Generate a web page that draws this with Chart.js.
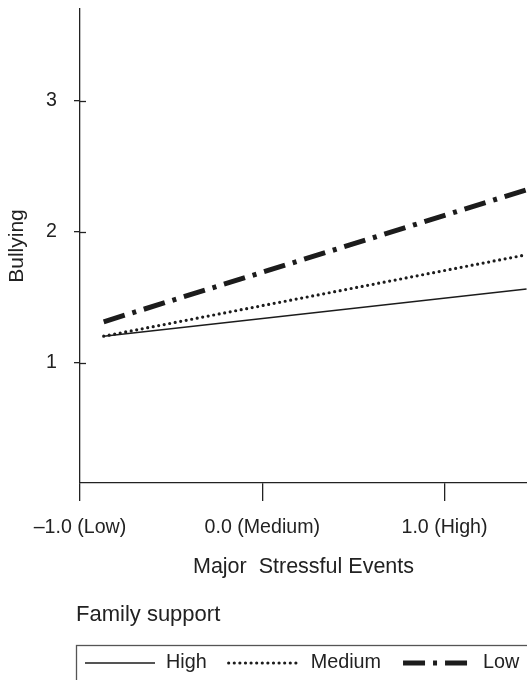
<!DOCTYPE html>
<html>
<head>
<meta charset="utf-8">
<script src="https://cdn.jsdelivr.net/npm/chart.js@4/dist/chart.umd.min.js"></script>
<style>
  html, body { margin: 0; padding: 0; background: #fff; }
  #wrap { width: 527px; height: 680px; }
</style>
</head>
<body>
<div id="wrap"><canvas id="chart"></canvas></div>
<script>
// values
const xTicks = [-1, 0, 1];
const xTickLabels = ['\u20131.0 (Low)', '0.0 (Medium)', '1.0 (High)'];
const yTicks = [1, 2, 3];
const stressX = [-0.87, 1.45];
const highSupport = [1.204, 1.564];
const mediumSupport = [1.204, 1.825];
const lowSupport = [1.314, 2.32];
const seriesNames = ['High', 'Medium', 'Low'];

const FONT = "'Liberation Sans', Arial, Helvetica, sans-serif";
const INK = '#1c1c1c';
const TEXT = '#222';

function toPoints(ys) {
    return stressX.map((x, i) => ({ x: x, y: ys[i] }));
}

const lineStyles = [
    { borderWidth: 1.5, borderDash: [], borderCapStyle: 'butt' },
    { borderWidth: 3.2, borderDash: [0, 5.6], borderCapStyle: 'round' },
    { borderWidth: 5, borderDash: [22, 8, 4, 8], borderCapStyle: 'butt' }
];

const datasets = [highSupport, mediumSupport, lowSupport].map((ys, i) => ({
    label: seriesNames[i],
    data: toPoints(ys),
    borderColor: INK,
    borderWidth: lineStyles[i].borderWidth,
    borderDash: lineStyles[i].borderDash,
    borderCapStyle: lineStyles[i].borderCapStyle,
    pointRadius: 0,
    fill: false,
    tension: 0
}));

// inner half of the y ticks (they cross the axis)
const innerTicks = {
    id: 'innerTicks',
    afterDraw(chart) {
        const ctx = chart.ctx;
        const y = chart.scales.y;
        ctx.save();
        ctx.strokeStyle = TEXT;
        ctx.lineWidth = 1.3;
        yTicks.forEach(v => {
            const py = Math.round(y.getPixelForValue(v)) + 0.5;
            ctx.beginPath();
            ctx.moveTo(chart.chartArea.left, py);
            ctx.lineTo(chart.chartArea.left + 6, py);
            ctx.stroke();
        });
        ctx.restore();
    }
};

// boxed legend with a title above it
const boxedLegend = {
    id: 'boxedLegend',
    afterDraw(chart) {
        const ctx = chart.ctx;
        const left = 76;
        const titleY = 615;
        const boxTop = 645;
        const itemY = 663;
        ctx.save();
        ctx.fillStyle = TEXT;
        ctx.textBaseline = 'middle';
        ctx.font = '22px ' + FONT;
        ctx.fillText('Family support', left, titleY);

        ctx.strokeStyle = '#555';
        ctx.lineWidth = 1.3;
        ctx.strokeRect(left + 0.5, boxTop + 0.5, 700, 100);

        ctx.font = '19.8px ' + FONT;
        let x = left + 9;
        const sampleLen = [70, 70, 65];
        const textGap = [11, 12, 15];
        chart.data.datasets.forEach((ds, i) => {
            ctx.save();
            ctx.strokeStyle = ds.borderColor;
            ctx.lineWidth = ds.borderWidth;
            ctx.setLineDash(ds.borderDash);
            ctx.lineCap = ds.borderCapStyle;
            ctx.beginPath();
            ctx.moveTo(x, itemY);
            ctx.lineTo(x + sampleLen[i], itemY);
            ctx.stroke();
            ctx.restore();
            x += sampleLen[i] + textGap[i];
            ctx.fillText(ds.label, x, itemY);
            x += ctx.measureText(ds.label).width + 22;
        });
        ctx.restore();
    }
};

new Chart(document.getElementById('chart'), {
    type: 'line',
    data: { datasets: datasets },
    plugins: [innerTicks, boxedLegend],
    options: {
        responsive: true,
        maintainAspectRatio: false,
        animation: false,
        layout: { padding: { top: 9, right: 0, left: 0, bottom: 100 } },
        plugins: {
            legend: { display: false },
            tooltip: { enabled: false }
        },
        scales: {
            x: {
                type: 'linear',
                min: -1,
                max: 1.4525,
                afterBuildTicks: scale => { scale.ticks = xTicks.map(v => ({ value: v })); },
                afterFit: scale => {
                    scale.height = 97;
                    scale.paddingLeft = 0;
                    scale.paddingRight = 0;
                },
                ticks: {
                    callback: v => xTickLabels[xTicks.indexOf(v)],
                    font: { family: FONT, size: 19.6 },
                    color: TEXT,
                    padding: 15,
                    maxRotation: 0,
                    autoSkip: false
                },
                grid: { drawOnChartArea: false, drawTicks: true, tickLength: 18, color: TEXT, lineWidth: 1.3 },
                border: { color: TEXT, width: 1.3 },
                title: {
                    display: true,
                    text: 'Major  Stressful Events',
                    font: { family: FONT, size: 21.5 },
                    color: TEXT,
                    padding: { top: 4, bottom: 0 }
                }
            },
            y: {
                type: 'linear',
                min: 0.085,
                max: 3.698,
                afterBuildTicks: scale => { scale.ticks = yTicks.map(v => ({ value: v })); },
                afterFit: scale => {
                    scale.width = 80;
                    scale.paddingTop = 0;
                    scale.paddingBottom = 0;
                },
                ticks: {
                    callback: v => String(v),
                    font: { family: FONT, size: 19.6 },
                    color: TEXT,
                    padding: 17
                },
                grid: { drawOnChartArea: false, drawTicks: true, tickLength: 6, color: TEXT, lineWidth: 1.3 },
                border: { color: TEXT, width: 1.3 },
                title: {
                    display: true,
                    text: 'Bullying',
                    font: { family: FONT, size: 21 },
                    color: TEXT,
                    padding: { top: 5, bottom: 0 }
                }
            }
        }
    }
});
</script>
</body>
</html>
